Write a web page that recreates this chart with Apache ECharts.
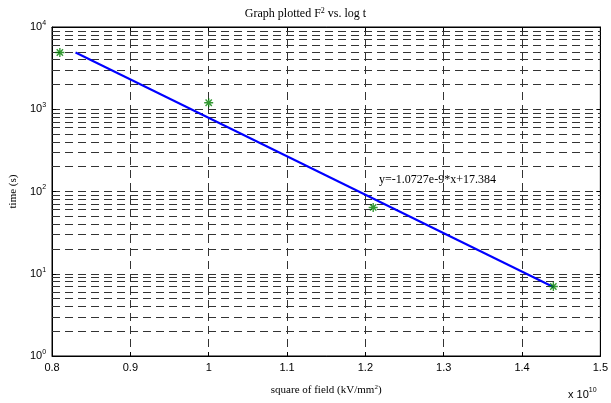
<!DOCTYPE html>
<html>
<head>
<meta charset="utf-8">
<script src="https://cdn.jsdelivr.net/npm/echarts@6/dist/echarts.min.js"></script>
<style>
  html, body { margin: 0; padding: 0; background: #fff; }
  #chart { width: 611px; height: 403px; }
</style>
</head>
<body>
<div id="chart"></div>
<script>
// measured points (x in units of 1e10 (kV/mm)^2, time in s)
const fieldSq = [0.81, 1.0, 1.21, 1.44];
const timeSec = [4900, 1200, 64, 7];
// fitted line end points
const fitX = [0.83, 1.44];
const fitY = [4900, 6.9];
const fitLabel = "y=-1.0727e-9*x+17.384";
const labelAt = [1.2175, 140];
// minor log grid values
const minorGrid = [2, 3, 4, 5, 6, 7, 8, 9, 20, 30, 40, 50, 60, 70, 80, 90,
  200, 300, 400, 500, 600, 700, 800, 900, 2000, 3000, 4000, 5000, 6000, 7000, 8000, 9000];

const serif = "Liberation Serif";
const sans = "Liberation Sans";
const dash = { color: "#333", width: 1, type: [8, 5] };
const star = "path://M0,-10L0,10M-10,0L10,0M-7,-7L7,7M-7,7L7,-7";
const sup = (font, size, pad) => ({ fontFamily: font, fontSize: size, verticalAlign: "top", padding: [0, 0, pad, 0], color: "#000" });

const chart = echarts.init(document.getElementById("chart"));
chart.setOption({
  animation: false,
  title: {
    text: "Graph plotted F{s|2} vs. log t",
    left: "center",
    top: 2,
    textStyle: {
      fontFamily: serif, fontSize: 12, fontWeight: "normal", color: "#000",
      rich: { s: sup(serif, 8, 6) },
    },
  },
  graphic: [
    {
      type: "text", left: 568, top: 387,
      style: {
        text: "x 10{s|10}", fontFamily: sans, fontSize: 11, fill: "#000",
        rich: { s: sup(sans, 7, 8) },
      },
    },
  ],
  grid: { left: 49, right: 8, top: 27, bottom: 47, show: true, borderColor: "#000", borderWidth: 1 },
  xAxis: [
    {
      type: "value", min: 0.8, max: 1.5, interval: 0.1,
      axisLine: { lineStyle: { color: "#000" } },
      axisTick: { inside: true, length: 4, lineStyle: { color: "#000" } },
      axisLabel: { color: "#000", fontFamily: sans, fontSize: 11, margin: 6 },
      splitLine: { show: true, lineStyle: dash },
      name: "square of field (kV/mm{s|2})",
      nameLocation: "middle", nameGap: 28,
      nameTextStyle: { fontFamily: serif, fontSize: 11, color: "#000", rich: { s: sup(serif, 7, 6) } },
    },
    {
      type: "value", position: "top", min: 0.8, max: 1.5, interval: 0.1,
      axisLine: { lineStyle: { color: "#000" } },
      axisTick: { inside: true, length: 4, lineStyle: { color: "#000" } },
      axisLabel: { show: false }, splitLine: { show: false },
    },
  ],
  yAxis: [
    {
      type: "log", logBase: 10, min: 1, max: 10000,
      axisLine: { lineStyle: { color: "#000" } },
      axisTick: { inside: true, length: 4, lineStyle: { color: "#000" } },
      axisLabel: {
        color: "#000", fontFamily: sans, fontSize: 11, margin: 6,
        formatter: (v) => "{b|10}{e|" + Math.round(Math.log10(v)) + "}",
        rich: {
          b: { fontFamily: sans, fontSize: 11, color: "#000" },
          e: sup(sans, 7, 8),
        },
      },
      splitLine: { show: true, lineStyle: dash },
      name: "time (s)", nameLocation: "middle", nameGap: 33, nameRotate: 90,
      nameTextStyle: { fontFamily: serif, fontSize: 11, color: "#000" },
    },
    {
      type: "log", logBase: 10, min: 1, max: 10000, position: "right",
      axisLine: { lineStyle: { color: "#000" } },
      axisTick: { inside: true, length: 4, lineStyle: { color: "#000" } },
      axisLabel: { show: false }, splitLine: { show: false },
    },
  ],
  series: [
    {
      type: "line",
      data: fitX.map((x, i) => [x, fitY[i]]),
      showSymbol: false,
      lineStyle: { color: "#0000ff", width: 2 },
      z: 3,
      markLine: {
        silent: true, symbol: "none",
        label: { show: false },
        lineStyle: dash,
        data: minorGrid.map((v) => ({ yAxis: v })),
        z: 1,
      },
      markPoint: {
        symbol: "circle", symbolSize: 0,
        data: [{ coord: labelAt }],
        label: {
          show: true, position: "right", distance: 0,
          formatter: fitLabel,
          fontFamily: serif, fontSize: 12, color: "#000",
        },
      },
    },
    {
      type: "scatter",
      data: fieldSq.map((x, i) => [x, timeSec[i]]),
      symbol: star, symbolSize: 9,
      itemStyle: { color: "transparent", borderColor: "#008000", borderWidth: 1.4 },
      z: 4,
    },
  ],
});
</script>
</body>
</html>
